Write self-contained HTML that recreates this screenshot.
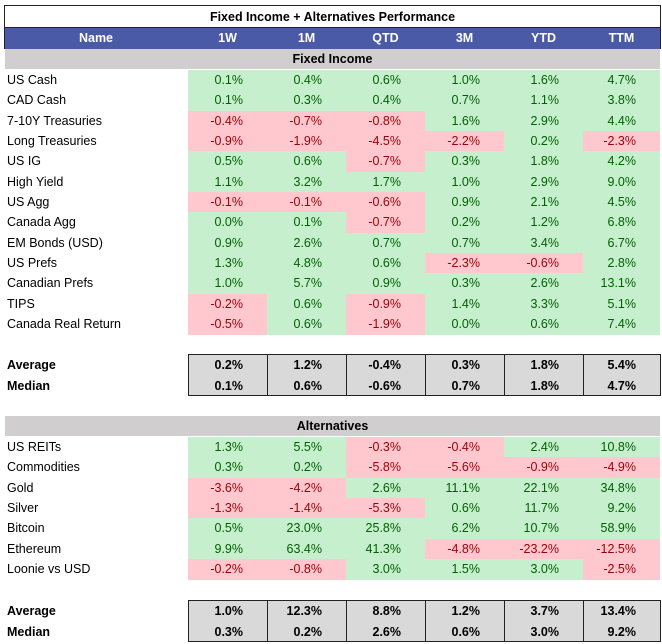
<!DOCTYPE html>
<html><head><meta charset="utf-8">
<style>
body{margin:0;background:#fff;font-family:"Liberation Sans",sans-serif;}
#t{position:relative;width:662px;height:644px;overflow:hidden;}
.c{position:absolute;font-size:12.5px;line-height:20px;height:20px;box-sizing:border-box;white-space:nowrap;}
.b{font-weight:bold;}
.g{background:#c6efce;color:#006100;}
.r{background:#ffc7ce;color:#9c0006;}
.box{position:absolute;border:1px solid #222;box-sizing:border-box;}
</style></head><body>
<div id="t">
  <div class="box" style="left:4px;top:5px;width:657px;height:44px;"></div>
  <div class="c b" style="left:4px;top:7px;width:657px;text-align:center;">Fixed Income + Alternatives Performance</div>
  <div style="position:absolute;left:5px;top:27px;width:655px;height:21px;background:#4b5aa6;border-top:1px solid #222;"></div>
</div>
<script>
const columns=["1W","1M","QTD","3M","YTD","TTM"];
const fiNames=["US Cash","CAD Cash","7-10Y Treasuries","Long Treasuries","US IG","High Yield","US Agg","Canada Agg","EM Bonds (USD)","US Prefs","Canadian Prefs","TIPS","Canada Real Return"];
const fiValues=[
[0.1,0.4,0.6,1.0,1.6,4.7],
[0.1,0.3,0.4,0.7,1.1,3.8],
[-0.4,-0.7,-0.8,1.6,2.9,4.4],
[-0.9,-1.9,-4.5,-2.2,0.2,-2.3],
[0.5,0.6,-0.7,0.3,1.8,4.2],
[1.1,3.2,1.7,1.0,2.9,9.0],
[-0.1,-0.1,-0.6,0.9,2.1,4.5],
[0.0,0.1,-0.7,0.2,1.2,6.8],
[0.9,2.6,0.7,0.7,3.4,6.7],
[1.3,4.8,0.6,-2.3,-0.6,2.8],
[1.0,5.7,0.9,0.3,2.6,13.1],
[-0.2,0.6,-0.9,1.4,3.3,5.1],
[-0.5,0.6,-1.9,0.0,0.6,7.4]];
const fiAverage=[0.2,1.2,-0.4,0.3,1.8,5.4];
const fiMedian=[0.1,0.6,-0.6,0.7,1.8,4.7];
const altNames=["US REITs","Commodities","Gold","Silver","Bitcoin","Ethereum","Loonie vs USD"];
const altValues=[
[1.3,5.5,-0.3,-0.4,2.4,10.8],
[0.3,0.2,-5.8,-5.6,-0.9,-4.9],
[-3.6,-4.2,2.6,11.1,22.1,34.8],
[-1.3,-1.4,-5.3,0.6,11.7,9.2],
[0.5,23.0,25.8,6.2,10.7,58.9],
[9.9,63.4,41.3,-4.8,-23.2,-12.5],
[-0.2,-0.8,3.0,1.5,3.0,-2.5]];
const altAverage=[1.0,12.3,8.8,1.2,3.7,13.4];
const altMedian=[0.3,0.2,2.6,0.6,3.0,9.2];

const T=document.getElementById('t');
const colX=[188,267,346,425,504,583,660];
const RH=20.33;
function cell(x,y,w,txt,cls,align){
  const d=document.createElement('div');
  d.className='c '+(cls||'');
  d.style.left=x+'px';d.style.top=y+'px';d.style.width=w+'px';
  d.style.textAlign=align||'left';
  if(align==='right')d.style.paddingRight='24px';
  if(align==='left')d.style.paddingLeft='3px';
  d.textContent=txt;
  T.appendChild(d);return d;
}
const fmt=v=>v.toFixed(1)+'%';
// header
let h=cell(4,28,184,'Name','b','center');h.style.color='#fff';


columns.forEach((c,i)=>{const e=cell(colX[i],28,colX[i+1]-colX[i],c,'b','center');e.style.color='#fff';

});
function band(y,txt,name){
  const d=cell(5,y,655,txt,'b','center');d.style.background='#d0cece';d.style.height='20px';
  
  
}
function rows(names,vals,top,prefix){
  names.forEach((n,r)=>{
    const y=top+r*RH;
    const l=cell(4,y,184,n,'','left');
    
    
    vals[r].forEach((v,i)=>{
      const e=cell(colX[i],y,colX[i+1]-colX[i],fmt(v),v<0?'r':'g','right');
      e.style.height=(RH+0.5)+'px';
      
      
    });
  });
}
function stats(avg,med,top,prefix){
  const bx=document.createElement('div');bx.className='box';
  bx.style.cssText='left:188px;top:'+top+'px;width:473px;height:42px;background:#d9d9d9;';
  
  
  T.appendChild(bx);
  for(let i=1;i<6;i++){const s=document.createElement('div');
    s.style.cssText='position:absolute;left:'+(colX[i]-0.5)+'px;top:'+top+'px;width:1px;height:42px;background:#222;';
    
    
    T.appendChild(s);}
  [['Average',avg],['Median',med]].forEach((p,k)=>{
    const y=top+1+k*20.5;
    const l=cell(4,y,184,p[0],'b','left');
    
    
    p[1].forEach((v,i)=>{const e=cell(colX[i],y,colX[i+1]-colX[i],fmt(v),'b','right');
      
      });
  });
}
band(49,'Fixed Income','fixed-income-band');
rows(fiNames,fiValues,70,'fixed-income');
stats(fiAverage,fiMedian,354,'fixed-income');
band(416,'Alternatives','alternatives-band');
rows(altNames,altValues,437,'alternatives');
stats(altAverage,altMedian,600,'alternatives');
</script>
</body></html>
